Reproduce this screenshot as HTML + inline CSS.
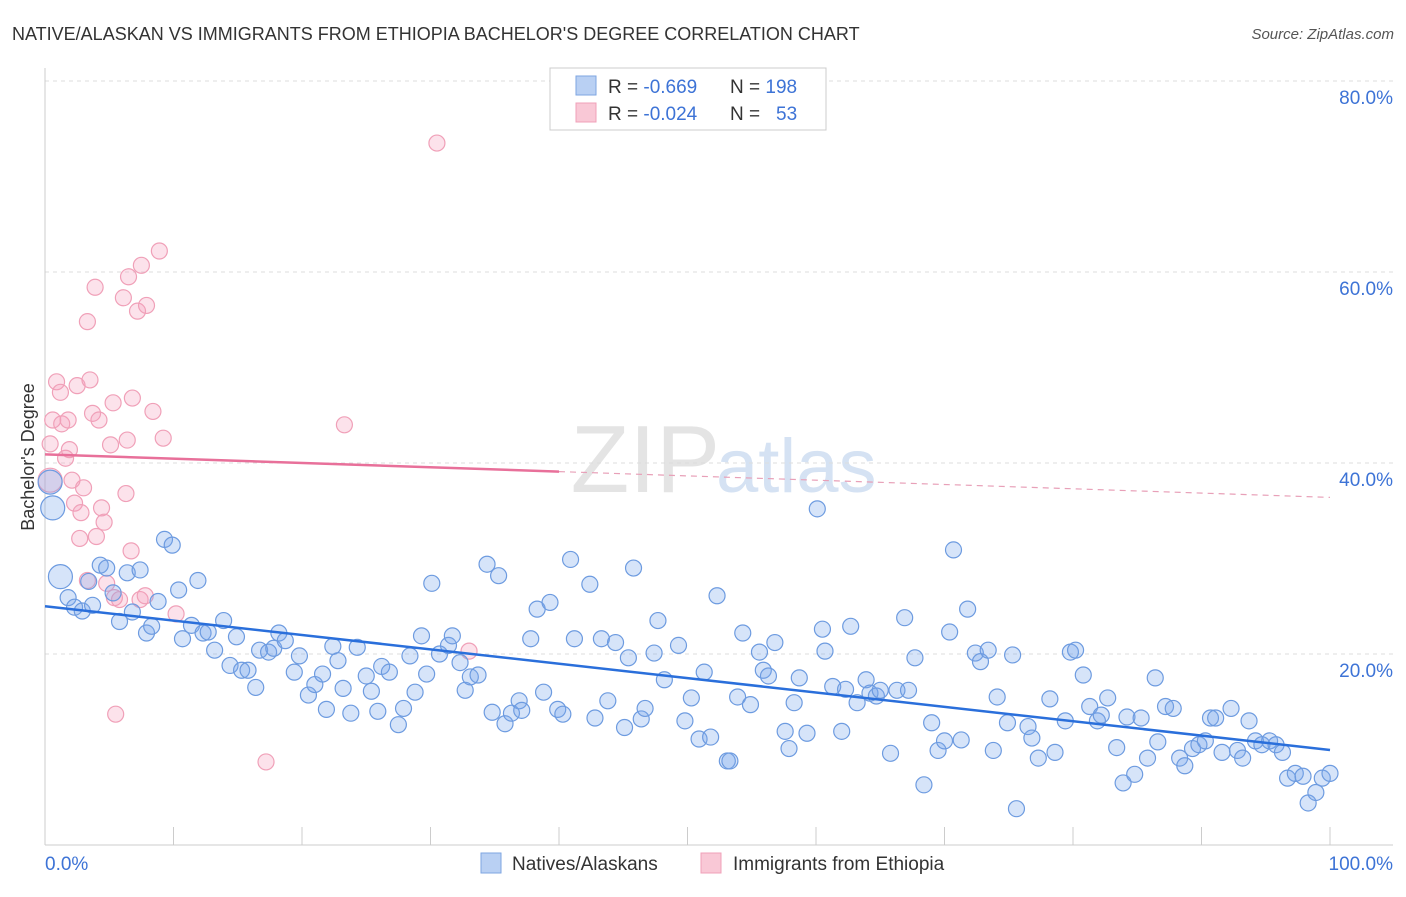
<!DOCTYPE html>
<html><head><meta charset="utf-8"><style>
body{margin:0;background:#fff;font-family:"Liberation Sans",sans-serif;}
svg text{font-family:"Liberation Sans",sans-serif;}
</style></head><body>
<svg id="chart" width="1406" height="892">
<text x="12" y="40" font-size="18" fill="#333">NATIVE/ALASKAN VS IMMIGRANTS FROM ETHIOPIA BACHELOR'S DEGREE CORRELATION CHART</text>
<text x="1394" y="39" font-size="15" fill="#555" font-style="italic" text-anchor="end">Source: ZipAtlas.com</text>
<text x="720" y="492" font-size="96" fill="#e4e4e4" text-anchor="end" font-family="Liberation Serif">ZIP</text>
<text x="716" y="492" font-size="76" fill="#d5e2f3">atlas</text>
<text transform="translate(34,457) rotate(-90)" font-size="18" fill="#333" text-anchor="middle">Bachelor's Degree</text>
<g id="grid"></g><g id="axes"></g><g id="marks"></g>
<g>
<rect x="550" y="68" width="276" height="62" fill="#fff" stroke="#ccc"/>
<rect x="576" y="76" width="20" height="19" fill="#b9d0f3" stroke="#7ea6e2"/>
<rect x="576" y="103" width="20" height="19" fill="#f9c8d6" stroke="#f0a0b8"/>
<text x="608" y="93" font-size="19" fill="#333">R = <tspan fill="#3d73d6">-0.669</tspan><tspan x="730">N = </tspan><tspan fill="#3d73d6">198</tspan></text>
<text x="608" y="120" font-size="19" fill="#333">R = <tspan fill="#3d73d6">-0.024</tspan><tspan x="730">N = </tspan><tspan x="776" fill="#3d73d6">53</tspan></text>
</g>
<g>
<rect x="481" y="853" width="20" height="20" fill="#b9d0f3" stroke="#7ea6e2"/>
<text x="512" y="870" font-size="19" fill="#333">Natives/Alaskans</text>
<rect x="701" y="853" width="20" height="20" fill="#f9c8d6" stroke="#f0a0b8"/>
<text x="733" y="870" font-size="19" fill="#333">Immigrants from Ethiopia</text>
</g>
</svg>
<script>
const yTicks=[20,40,60,80];
const xTickLabels=["0.0%","100.0%"];
const blueX=[0.4,0.6,1.2,1.8,2.3,2.9,3.7,3.4,4.3,4.8,5.3,5.8,6.4,6.8,7.4,7.9,8.3,8.8,9.3,9.9,10.4,10.7,11.4,11.9,12.3,12.7,13.2,13.9,14.4,14.9,15.3,15.8,16.4,16.7,17.4,17.8,18.2,18.7,19.4,19.8,20.5,21.0,21.6,21.9,22.4,22.8,23.2,23.8,24.3,25.0,25.4,25.9,26.2,26.8,27.5,27.9,28.4,28.8,29.3,29.7,30.1,30.7,31.4,31.7,32.3,32.7,33.1,33.7,34.4,34.8,35.3,35.8,36.3,36.9,37.1,37.8,38.3,38.8,39.3,39.9,40.3,40.9,41.2,42.4,42.8,43.3,43.8,44.4,45.1,45.4,45.8,46.4,46.7,47.4,47.7,48.2,49.3,49.8,50.3,50.9,51.8,51.3,52.3,53.1,53.3,53.9,54.3,54.9,55.6,55.9,56.3,56.8,57.6,57.9,58.3,58.7,59.3,60.1,60.5,60.7,61.3,62.0,62.3,62.7,63.2,63.9,64.2,64.7,65.0,65.8,66.3,66.9,67.2,67.7,68.4,69.0,69.5,70.0,70.7,70.4,71.3,71.8,72.4,72.8,73.4,73.8,74.1,74.9,75.3,75.6,76.5,76.8,77.3,78.2,78.6,79.4,79.8,80.2,80.8,81.3,81.9,82.2,82.7,83.4,83.9,84.2,84.8,85.3,85.8,86.4,86.6,87.2,87.8,88.3,88.7,89.3,89.8,90.3,90.7,91.1,91.6,92.3,92.8,93.2,93.7,94.2,94.7,95.3,95.8,96.3,96.7,97.3,97.9,98.3,98.9,99.4,100];
const blueY=[38.0,35.3,28.1,25.9,24.9,24.5,25.1,27.6,29.3,29.0,26.4,23.4,28.5,24.4,28.8,22.2,22.9,25.5,32.0,31.4,26.7,21.6,23.0,27.7,22.2,22.3,20.4,23.5,18.8,21.8,18.3,18.3,16.5,20.4,20.2,20.6,22.2,21.4,18.1,19.8,15.7,16.8,17.9,14.2,20.8,19.3,16.4,13.8,20.7,17.7,16.1,14.0,18.7,18.1,12.6,14.3,19.8,16.0,21.9,17.9,27.4,20.0,20.9,21.9,19.1,16.2,17.6,17.8,29.4,13.9,28.2,12.7,13.8,15.1,14.1,21.6,24.7,16.0,25.4,14.2,13.7,29.9,21.6,27.3,13.3,21.6,15.1,21.2,12.3,19.6,29.0,13.2,14.3,20.1,23.5,17.3,20.9,13.0,15.4,11.1,11.3,18.1,26.1,8.8,8.8,15.5,22.2,14.7,20.2,18.3,17.7,21.2,11.9,10.1,14.9,17.5,11.7,35.2,22.6,20.3,16.6,11.9,16.3,22.9,14.9,17.3,15.9,15.6,16.2,9.6,16.2,23.8,16.2,19.6,6.3,12.8,9.9,10.9,30.9,22.3,11.0,24.7,20.1,19.2,20.4,9.9,15.5,12.8,19.9,3.8,12.4,11.2,9.1,15.3,9.7,13.0,20.2,20.4,17.8,14.5,13.0,13.6,15.4,10.2,6.5,13.4,7.4,13.3,9.1,17.5,10.8,14.5,14.3,9.1,8.3,10.1,10.5,10.9,13.3,13.3,9.7,14.3,9.9,9.1,13.0,10.9,10.5,10.9,10.5,9.7,7.0,7.5,7.2,4.4,5.5,7.0,7.5];
const pinkX=[0.4,0.6,0.4,0.9,1.2,1.3,1.8,1.6,1.9,2.1,2.3,2.5,2.8,2.7,3.0,3.3,3.5,3.7,3.9,4.0,4.2,4.4,4.6,4.8,5.1,5.3,5.5,5.8,6.1,6.3,6.4,6.5,6.8,7.2,7.4,7.5,7.9,7.8,8.4,8.9,9.2,10.2,17.2,23.3,30.5,33.0,6.7,5.4,3.3];
const pinkY=[38.2,44.5,42.0,48.5,47.4,44.1,44.5,40.5,41.4,38.2,35.8,48.1,34.8,32.1,37.4,54.8,48.7,45.2,58.4,32.3,44.5,35.3,33.8,27.4,41.9,46.3,13.7,25.7,57.3,36.8,42.4,59.5,46.8,55.9,25.7,60.7,56.5,26.1,45.4,62.2,42.6,24.2,8.7,44.0,73.5,20.3,30.8,25.9,27.7];
const bigBlue=[0,1,2], bigPink=[0];
const blueTrend=[25.0,9.95], pinkTrend=[40.9,36.4];
const NS="http://www.w3.org/2000/svg";
const X=v=>45+v*12.85, Y=v=>845-v*9.55;
function mk(t,a,p){const e=document.createElementNS(NS,t);for(const k in a)e.setAttribute(k,a[k]);p.appendChild(e);return e;}
const grid=document.getElementById('grid'),axes=document.getElementById('axes'),marks=document.getElementById('marks');
yTicks.forEach(t=>{
 const l=mk('line',{x1:45,x2:1393,y1:Y(t),y2:Y(t),stroke:'#ddd','stroke-dasharray':'4,4'},grid);
 
 
 const tx=mk('text',{x:1393,y:Y(t)+23,'font-size':19,fill:'#3d73d6','text-anchor':'end'},grid);tx.textContent=t.toFixed(1)+'%';
 
 
});
mk('line',{x1:45,x2:45,y1:68,y2:845,stroke:'#ccc'},axes);
mk('line',{x1:45,x2:1393,y1:845,y2:845,stroke:'#ccc'},axes);
for(let i=0;i<=10;i++){const t=mk('line',{x1:X(i*10),x2:X(i*10),y1:827,y2:845,stroke:'#ccc'},axes);
 
 }
const l0=mk('text',{x:45,y:870,'font-size':19,fill:'#3d73d6'},axes);l0.textContent=xTickLabels[0];


const l1=mk('text',{x:1393,y:870,'font-size':19,fill:'#3d73d6','text-anchor':'end'},axes);l1.textContent=xTickLabels[1];


pinkX.forEach((x,i)=>{const c=mk('circle',{cx:X(x),cy:Y(pinkY[i]),r:bigPink.includes(i)?12:8,fill:'rgba(244,160,188,0.3)',stroke:'#f0a0b8','stroke-width':1.2},marks);
 
 });
blueX.forEach((x,i)=>{const c=mk('circle',{cx:X(x),cy:Y(blueY[i]),r:bigBlue.includes(i)?12:8,fill:'rgba(120,165,235,0.3)',stroke:'#6d9be0','stroke-width':1.2},marks);
 
 });
const bt=mk('line',{x1:X(0),y1:Y(blueTrend[0]),x2:X(100),y2:Y(blueTrend[1]),stroke:'#2a6fdb','stroke-width':2.5},marks);


const pm=pinkTrend[0]+(pinkTrend[1]-pinkTrend[0])*0.4;
const pt=mk('line',{x1:X(0),y1:Y(pinkTrend[0]),x2:X(40),y2:Y(pm),stroke:'#e8709a','stroke-width':2.5},marks);


const pd=mk('line',{x1:X(40),y1:Y(pm),x2:X(100),y2:Y(pinkTrend[1]),stroke:'#e8a0b8','stroke-width':1.2,'stroke-dasharray':'6,5'},marks);


</script>
</body></html>
